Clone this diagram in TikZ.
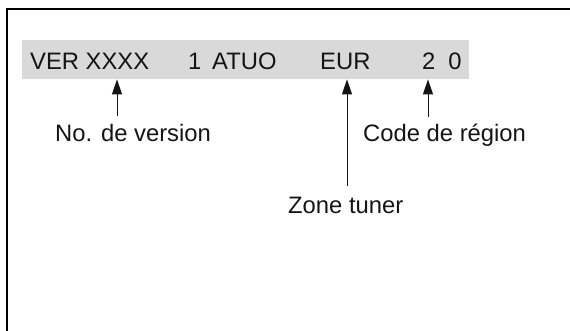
\documentclass[tikz,border=0pt]{standalone}
\usepackage{fontspec}
\setmainfont{Liberation Sans}
\usetikzlibrary{arrows.meta}
\definecolor{barfill}{RGB}{217,217,217}
\definecolor{ink}{RGB}{20,20,20}
\begin{document}
\begin{tikzpicture}[x=1pt,y=-1pt,
  txt/.style={inner sep=0pt,anchor=base west,font=\fontsize{23.8}{28}\selectfont,text=ink},
  pointer/.style={draw=ink,line width=1pt,-{Triangle[length=15pt,width=10pt]}},
  frame/.style={draw=black,line width=2pt}]
  \useasboundingbox (0,0) rectangle (570,331);
  % open frame: top and left edges only
  \draw[frame] (570,9.5) -- (6.5,9.5) -- (6.5,331);
  % grey display bar
  \node[fill=barfill,inner sep=0pt,minimum width=447pt,minimum height=39pt,anchor=north west] (bar) at (22,40) {};
  % display fields
  \node[txt] (ver) at (30,70) {VER XXXX};
  \node[txt] (one) at (188,70) {1};
  \node[txt] (atuo) at (212,70) {ATUO};
  \node[txt] (eur) at (320,70) {EUR};
  \node[txt] (reg) at (422,70) {2\hspace{13pt}0};
  % captions
  \node[txt] (lver) at (55,142) {No. de version};
  \node[txt] (lzone) at (288,214) {Zone tuner};
  \node[txt] (lreg) at (363,142) {Code de région};
  % pointer start points
  \coordinate (pver) at (117,116);
  \coordinate (pzone) at (347,186);
  \coordinate (preg) at (428,117);
  \draw[pointer] (pver) -- (pver |- bar.south);
  \draw[pointer] (pzone) -- (pzone |- bar.south);
  \draw[pointer] (preg) -- (preg |- bar.south);
\end{tikzpicture}
\end{document}
